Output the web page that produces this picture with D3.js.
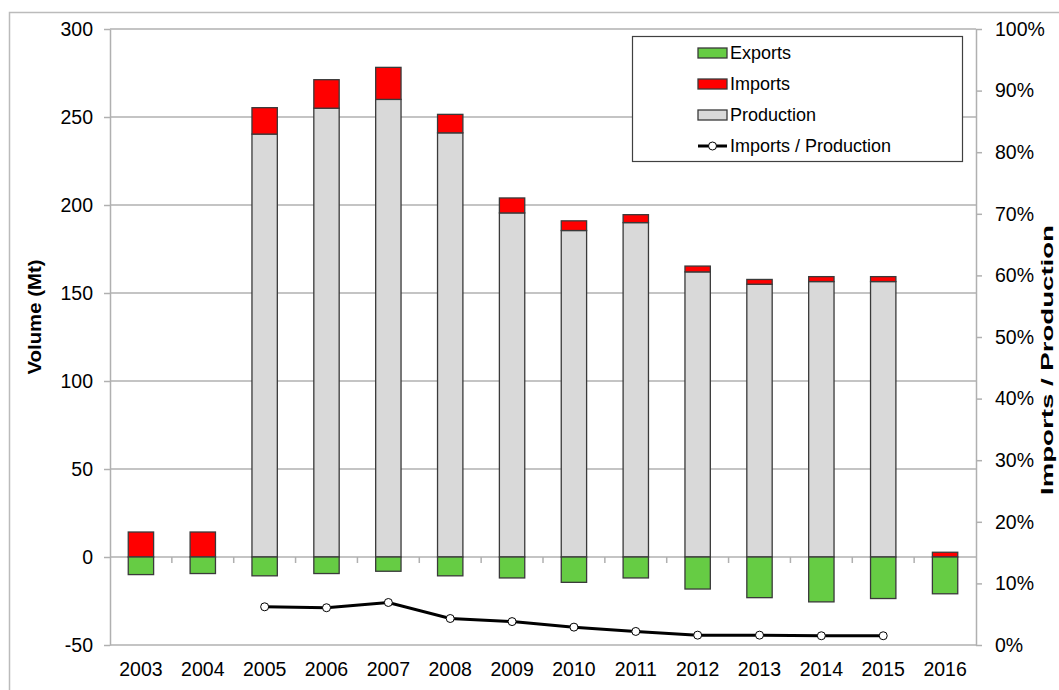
<!DOCTYPE html>
<head>
  <meta charset="utf-8">
  <title>volumes</title>
  <style>
    body { margin: 0; background: #fff; }
    text { font-family: "Liberation Sans", Arial, sans-serif; fill: #000; }
  </style>
</head>

<script src="https://d3js.org/d3.v7.min.js"></script>

<div id="chart"></div>

<script>
  // values (Mt), ratio in %
  const years = ["2003","2004","2005","2006","2007","2008","2009","2010","2011","2012","2013","2014","2015","2016"];
  const production = [0, 0, 240.3, 255, 260, 241, 195.5, 185.5, 190, 162, 155, 156.5, 156.5, 0];
  const imports = [14.2, 14.2, 15, 16.2, 18.2, 10.5, 8.5, 5.5, 4.5, 3.3, 2.7, 2.8, 2.8, 2.7];
  const exports = [-10, -9.4, -10.7, -9.4, -8.1, -10.7, -11.9, -14.4, -11.9, -18.2, -23.1, -25.5, -23.6, -20.9];
  const ratio = [null, null, 6.2, 6.05, 6.9, 4.3, 3.8, 2.9, 2.2, 1.6, 1.6, 1.5, 1.5, null];
  const volumeTicks = [-50, 0, 50, 100, 150, 200, 250, 300];
  const ratioTicks = [0, 0.1, 0.2, 0.3, 0.4, 0.5, 0.6, 0.7, 0.8, 0.9, 1];

  const W = 1059, H = 690;
  const margin = {top: 29, right: 83, bottom: 45, left: 110},
      width = W - margin.left - margin.right,
      height = H - margin.top - margin.bottom;

  const colors = {exports: "#66cc44", imports: "#ff0000", production: "#d9d9d9"};
  const grid = "#b0b0b0";

  const svg = d3.select("#chart").append("svg")
      .attr("width", W)
      .attr("height", H);

  // outer frame
  svg.append("rect")
    .attr("x", 9.5).attr("y", 12.5)
    .attr("width", W + 20).attr("height", H + 20)
    .attr("fill", "#fff").attr("stroke", "#bbb").attr("stroke-width", 1.5);

  const g = svg.append("g").attr("transform", `translate(${margin.left},${margin.top})`);

  const x = d3.scaleBand().domain(years).range([0, width])
      .paddingInner(0.59).paddingOuter(0.295);
  const y = d3.scaleLinear().domain([-50, 300]).range([height, 0]);
  const y2 = d3.scaleLinear().domain([0, 1]).range([height, 0]);

  // gridlines
  g.append("g").selectAll("line")
    .data(volumeTicks)
    .join("line")
      .attr("x1", 0).attr("x2", width)
      .attr("y1", d => y(d)).attr("y2", d => y(d))
      .attr("stroke", grid).attr("stroke-width", 1.5);

  // left axis
  const left = g.append("g")
    .call(d3.axisLeft(y).tickValues(volumeTicks).tickFormat(d => String(d))
      .tickSize(6).tickPadding(11).tickSizeOuter(0));
  // right axis
  const right = g.append("g")
    .attr("transform", `translate(${width},0)`)
    .call(d3.axisRight(y2).tickValues(ratioTicks).tickFormat(d => Math.round(d * 100) + "%")
      .tickSize(6).tickPadding(13).tickSizeOuter(0));
  [left, right].forEach(a => {
    a.selectAll("path, line").attr("stroke", grid).attr("stroke-width", 1.5);
    a.selectAll("text").style("font-size", "19.5px");
  });

  // category ticks on the zero line
  const gap = (x.step() - x.bandwidth()) / 2;
  g.append("g").selectAll("line")
    .data(years.slice(1))
    .join("line")
      .attr("x1", d => x(d) - gap).attr("x2", d => x(d) - gap)
      .attr("y1", y(0)).attr("y2", y(0) + 6)
      .attr("stroke", grid).attr("stroke-width", 1.5);

  // x labels
  const bottom = g.append("g")
    .attr("transform", `translate(0,${height})`)
    .call(d3.axisBottom(x).tickSize(0).tickPadding(17));
  bottom.select(".domain").remove();
  bottom.selectAll("text").style("font-size", "19.5px");

  // bars
  const bars = g.append("g").attr("stroke", "#3a3a3a").attr("stroke-width", 1.3);
  const rows = years.map((yr, i) => ({yr, p: production[i], im: imports[i], ex: exports[i]}));

  bars.selectAll(".prod")
    .data(rows.filter(d => d.p > 0))
    .join("rect")
      .attr("x", d => x(d.yr)).attr("width", x.bandwidth())
      .attr("y", d => y(d.p)).attr("height", d => y(0) - y(d.p))
      .attr("fill", colors.production);

  bars.selectAll(".imp")
    .data(rows)
    .join("rect")
      .attr("x", d => x(d.yr)).attr("width", x.bandwidth())
      .attr("y", d => y(d.p + d.im)).attr("height", d => y(d.p) - y(d.p + d.im))
      .attr("fill", colors.imports);

  bars.selectAll(".exp")
    .data(rows)
    .join("rect")
      .attr("x", d => x(d.yr)).attr("width", x.bandwidth())
      .attr("y", y(0)).attr("height", d => y(d.ex) - y(0))
      .attr("fill", colors.exports);

  // imports / production line
  const pts = years.map((yr, i) => ({yr, v: ratio[i]})).filter(d => d.v != null);
  const cx = d => x(d.yr) + x.bandwidth() / 2;
  g.append("path")
    .datum(pts)
    .attr("fill", "none").attr("stroke", "#000").attr("stroke-width", 3)
    .attr("d", d3.line().x(cx).y(d => y2(d.v / 100)));
  g.append("g").selectAll("circle")
    .data(pts)
    .join("circle")
      .attr("cx", cx).attr("cy", d => y2(d.v / 100)).attr("r", 4)
      .attr("fill", "#fff").attr("stroke", "#000").attr("stroke-width", 1);

  // axis titles
  svg.append("text")
    .attr("transform", "translate(41,317) rotate(-90)")
    .attr("text-anchor", "middle")
    .attr("textLength", 115).attr("lengthAdjust", "spacingAndGlyphs")
    .style("font-size", "18px").style("font-weight", "bold")
    .text("Volume (Mt)");
  svg.append("text")
    .attr("transform", "translate(1053,360) rotate(-90)")
    .attr("text-anchor", "middle")
    .attr("textLength", 270).attr("lengthAdjust", "spacingAndGlyphs")
    .style("font-size", "17px").style("font-weight", "bold")
    .text("Imports / Production");

  // legend
  const leg = svg.append("g");
  leg.append("rect")
    .attr("x", 632.5).attr("y", 36.5).attr("width", 330).attr("height", 125)
    .attr("fill", "#fff").attr("stroke", "#404040").attr("stroke-width", 1.2);
  const items = [
    {name: "Exports", color: colors.exports},
    {name: "Imports", color: colors.imports},
    {name: "Production", color: colors.production},
    {name: "Imports / Production", line: true}
  ];
  const li = leg.selectAll(".item")
    .data(items)
    .join("g")
      .attr("transform", (d, i) => `translate(698,${53 + i * 31})`);
  li.filter(d => !d.line).append("rect")
    .attr("x", 0).attr("y", -5).attr("width", 29).attr("height", 10)
    .attr("fill", d => d.color).attr("stroke", "#3a3a3a").attr("stroke-width", 1.3);
  li.filter(d => d.line).append("line")
    .attr("x1", 0).attr("x2", 29).attr("y1", 0).attr("y2", 0)
    .attr("stroke", "#000").attr("stroke-width", 3);
  li.filter(d => d.line).append("circle")
    .attr("cx", 14.5).attr("cy", 0).attr("r", 4)
    .attr("fill", "#fff").attr("stroke", "#000");
  li.append("text")
    .attr("x", 32).attr("dy", "0.36em")
    .style("font-size", "18px")
    .text(d => d.name);
</script>
